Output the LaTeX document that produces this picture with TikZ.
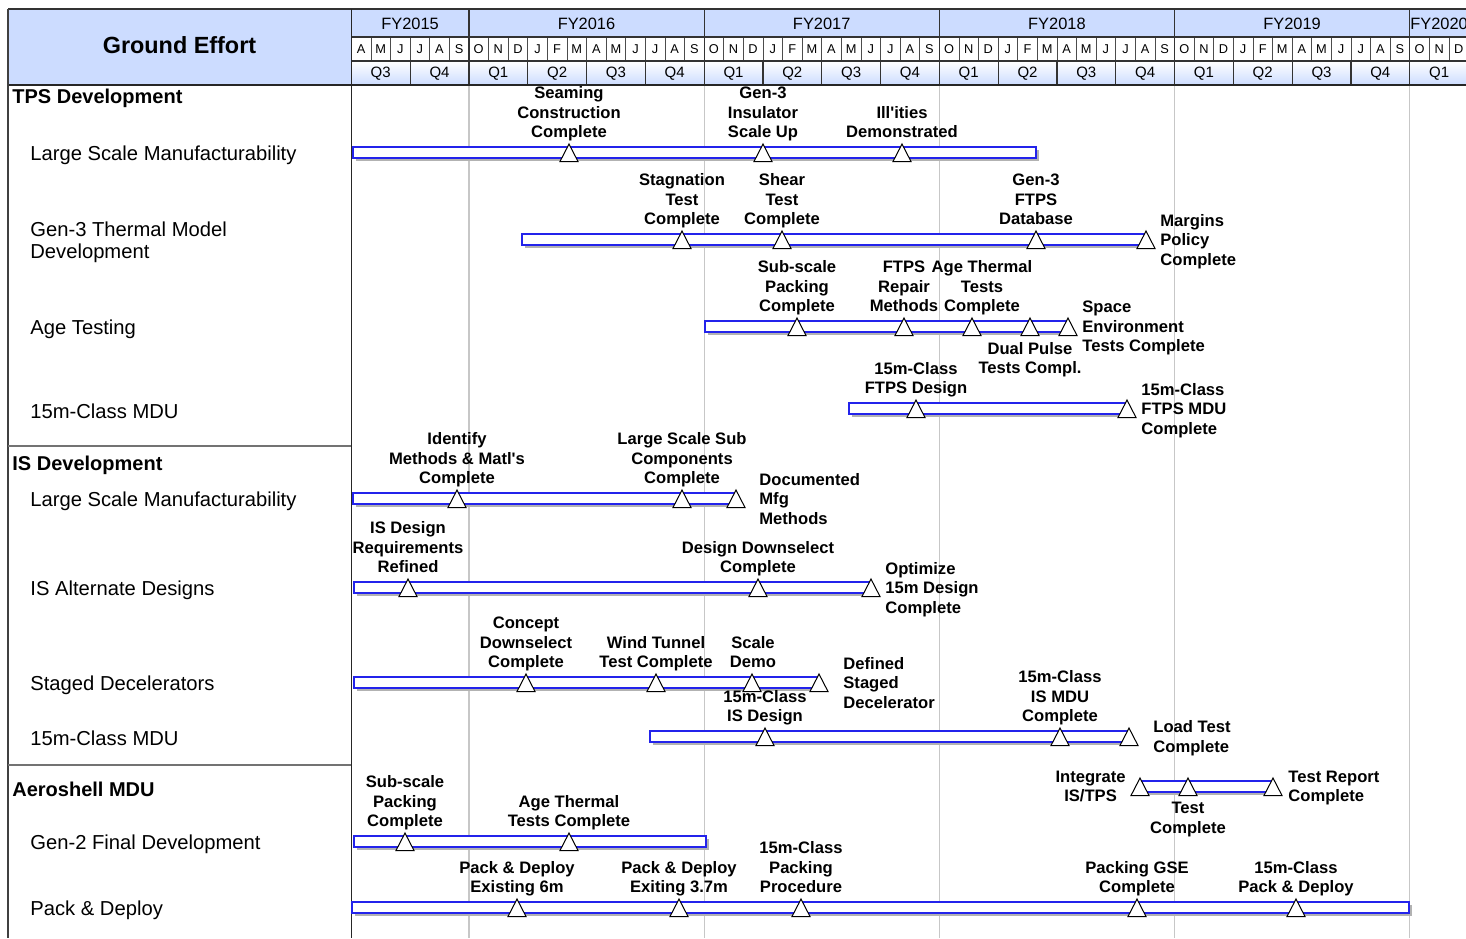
\documentclass[tikz,border=0pt]{standalone}
\usepackage{fontspec}
\setmainfont{Liberation Sans}
\definecolor{hdrblue}{RGB}{204,220,255}
\definecolor{barblue}{RGB}{35,35,235}
\tikzset{
  hdrline/.style={draw=black!80, line width=0.6pt},
  barbox/.style={draw=barblue, fill=white, line width=0.6pt},
  barshadow/.style={fill=black!30, draw=none},
  mstone/.style={draw=black, fill=white, line width=0.5pt, line join=miter},
  mlbl/.style={font=\fontsize{8.3}{9.75}\selectfont\bfseries, align=center, inner sep=0pt, text depth=0pt},
  rowlbl/.style={font=\fontsize{10.1}{11}\selectfont, anchor=west, align=left, inner sep=0pt},
  seclbl/.style={font=\fontsize{10}{12}\selectfont\bfseries, anchor=west, inner sep=0pt},
}
% bar from x1 to x2 at row centre y
\newcommand{\ganttbar}[3]{%
  \fill[barshadow] (#1+2.5,#3-3) rectangle (#2+2.5,#3+8);
  \draw[barbox] (#1,#3-5.5) rectangle (#2,#3+5.5);}
\begin{document}
\begin{tikzpicture}[x=0.5pt,y=-0.5pt]
\useasboundingbox (0,0) rectangle (1466,938);
\clip (0,0) rectangle (1466,938);

% header
\fill[hdrblue] (8,9) rectangle (351,85);
\fill[hdrblue] (351,9) rectangle (1470,37);
\shade[top color=white, bottom color=hdrblue] (351,61) rectangle (1470,85);
\node[font=\fontsize{11.7}{14}\selectfont\bfseries] (title) at (179.5,45) {Ground Effort};
\foreach \m [count=\i from 0] in {A,M,J,J,A,S,O,N,D,J,F,M,A,M,J,J,A,S,O,N,D,J,F,M,A,M,J,J,A,S,O,N,D,J,F,M,A,M,J,J,A,S,O,N,D,J,F,M,A,M,J,J,A,S,O,N,D}
  \node[font=\fontsize{6.4}{8}\selectfont, inner sep=0pt] (mon\i) at (351.3+19.6*\i+9.8,49.5) {\m};
\foreach \q [count=\i from 0] in {3,4,1,2,3,4,1,2,3,4,1,2,3,4,1,2,3,4,1}
  \node[font=\fontsize{7.5}{9}\selectfont, inner sep=0pt] (qtr\i) at (351.3+58.8*\i+29.4,73.5) {Q\q};
\node[font=\fontsize{8.2}{10}\selectfont, inner sep=0pt] (fy15) at (410.1,24) {FY2015};
\node[font=\fontsize{8.2}{10}\selectfont, inner sep=0pt] (fy16) at (586.5,24) {FY2016};
\node[font=\fontsize{8.2}{10}\selectfont, inner sep=0pt] (fy17) at (821.7,24) {FY2017};
\node[font=\fontsize{8.2}{10}\selectfont, inner sep=0pt] (fy18) at (1056.9,24) {FY2018};
\node[font=\fontsize{8.2}{10}\selectfont, inner sep=0pt] (fy19) at (1292.1,24) {FY2019};
\node[font=\fontsize{8.2}{10}\selectfont, inner sep=0pt] (fy20) at (1439.1,24) {FY2020};
\foreach \i in {1,...,56}
  \draw[black!70, line width=0.35pt] (351.3+19.6*\i,37) -- (351.3+19.6*\i,61);
\foreach \i in {1,...,18}
  \draw[hdrline] (351.3+58.8*\i,61) -- (351.3+58.8*\i,85);
\foreach \i in {6,18,30,42,54} {
  \draw[hdrline] (351.3+19.6*\i,9) -- (351.3+19.6*\i,85);
  \draw[black!22, line width=0.6pt] (351.3+19.6*\i,85) -- (351.3+19.6*\i,938);
}
\draw[hdrline] (8,9) -- (1470,9);
\draw[hdrline] (351,37) -- (1470,37);
\draw[hdrline] (351,61) -- (1470,61);
\draw[black!85, line width=1pt] (8,85) -- (1470,85);
\draw[black!75, line width=0.7pt] (8,9) -- (8,938);
\draw[black!85, line width=0.8pt] (351.3,9) -- (351.3,938);
\draw[black!55, line width=0.6pt] (8,446) -- (351.3,446);
\draw[black!55, line width=0.6pt] (8,765) -- (351.3,765);

% left column
\node[seclbl] (tps) at (12,98) {TPS Development};
\node[rowlbl] (tpslsm) at (30,155) {Large Scale Manufacturability};
\node[rowlbl] (gen3) at (30,242) {Gen-3 Thermal Model\\Development};
\node[rowlbl] (age) at (30,329) {Age Testing};
\node[rowlbl] (tpsmdu) at (30,411) {15m-Class MDU};
\node[seclbl] (isdev) at (12,465) {IS Development};
\node[rowlbl] (islsm) at (30,501) {Large Scale Manufacturability};
\node[rowlbl] (isalt) at (30,590) {IS Alternate Designs};
\node[rowlbl] (staged) at (30,685) {Staged Decelerators};
\node[rowlbl] (ismdu) at (30,738) {15m-Class MDU};
\node[seclbl] (aero) at (12,789) {Aeroshell MDU};
\node[rowlbl] (gen2) at (30,844) {Gen-2 Final Development};
\node[rowlbl] (pack) at (30,910) {Pack \& Deploy};

% TPS bars
\ganttbar{353}{1036}{152.5}
\foreach \x in {569,763,902}
  \draw[mstone] (\x-9,161.5) -- (\x+9,161.5) -- (\x,144) -- cycle;
\node[mlbl, anchor=south] (seam) at (569,138) {Seaming\\Construction\\Complete};
\node[mlbl, anchor=south] (insul) at (763,138) {Gen-3\\Insulator\\Scale Up};
\node[mlbl, anchor=south] (illit) at (902,138) {Ill\textquotesingle ities\\Demonstrated};

\ganttbar{522}{1146}{239.5}
\foreach \x in {682,782,1036,1146}
  \draw[mstone] (\x-9,248.5) -- (\x+9,248.5) -- (\x,231) -- cycle;
\node[mlbl, anchor=south] (stag) at (682,225) {Stagnation\\Test\\Complete};
\node[mlbl, anchor=south] (shear) at (782,225) {Shear\\Test\\Complete};
\node[mlbl, anchor=south] (ftpsdb) at (1036,225) {Gen-3\\FTPS\\Database};
\node[mlbl, anchor=west, align=left] (margin) at (1160,239.5) {Margins\\Policy\\Complete};

\ganttbar{705}{1068}{326.5}
\foreach \x in {797,904,972,1030,1068}
  \draw[mstone] (\x-9,335.5) -- (\x+9,335.5) -- (\x,318) -- cycle;
\node[mlbl, anchor=south] (subpack) at (797,312) {Sub-scale\\Packing\\Complete};
\node[mlbl, anchor=south] (repair) at (904,312) {FTPS\\Repair\\Methods};
\node[mlbl, anchor=south] (agetherm) at (982,312) {Age Thermal\\Tests\\Complete};
\node[mlbl, anchor=north] (dual) at (1030,342) {Dual Pulse\\Tests Compl.};
\node[mlbl, anchor=west, align=left] (space) at (1082,326.5) {Space\\Environment\\Tests Complete};

\ganttbar{849}{1127}{408.5}
\foreach \x in {916,1127}
  \draw[mstone] (\x-9,417.5) -- (\x+9,417.5) -- (\x,400) -- cycle;
\node[mlbl, anchor=south] (ftpsdes) at (916,394) {15m-Class\\FTPS Design};
\node[mlbl, anchor=west, align=left] (ftpsmdu) at (1141,408.5) {15m-Class\\FTPS MDU\\Complete};

% IS bars
\ganttbar{353}{736}{498.5}
\foreach \x in {457,682,736}
  \draw[mstone] (\x-9,507.5) -- (\x+9,507.5) -- (\x,490) -- cycle;
\node[mlbl, anchor=south] (ident) at (457,484) {Identify\\Methods \& Matl\textquotesingle s\\Complete};
\node[mlbl, anchor=south] (subcomp) at (682,484) {Large Scale Sub\\Components\\Complete};
\node[mlbl, anchor=west, align=left] (docmfg) at (759,498.5) {Documented\\Mfg\\Methods};

\ganttbar{354}{871}{587.5}
\foreach \x in {408,758,871}
  \draw[mstone] (\x-9,596.5) -- (\x+9,596.5) -- (\x,579) -- cycle;
\node[mlbl, anchor=south] (isreq) at (408,573) {IS Design\\Requirements\\Refined};
\node[mlbl, anchor=south] (desdown) at (758,573) {Design Downselect\\Complete};
\node[mlbl, anchor=west, align=left] (optim) at (885,587.5) {Optimize\\15m Design\\Complete};

\ganttbar{354}{819}{682.5}
\foreach \x in {526,656,752,819}
  \draw[mstone] (\x-9,691.5) -- (\x+9,691.5) -- (\x,674) -- cycle;
\node[mlbl, anchor=south] (concept) at (526,668) {Concept\\Downselect\\Complete};
\node[mlbl, anchor=south] (wind) at (656,668) {Wind Tunnel\\Test Complete};
\node[mlbl, anchor=south] (scale) at (753,668) {Scale\\Demo};
\node[mlbl, anchor=west, align=left] (defstaged) at (843,682.5) {Defined\\Staged\\Decelerator};

\ganttbar{650}{1129}{736.5}
\foreach \x in {765,1060,1129}
  \draw[mstone] (\x-9,745.5) -- (\x+9,745.5) -- (\x,728) -- cycle;
\node[mlbl, anchor=south] (isdes) at (765,722) {15m-Class\\IS Design};
\node[mlbl, anchor=south] (ismduc) at (1060,722) {15m-Class\\IS MDU\\Complete};
\node[mlbl, anchor=west, align=left] (load) at (1153,736.5) {Load Test\\Complete};

% Aeroshell bars
\ganttbar{1140}{1273}{786.5}
\foreach \x in {1140,1188,1273}
  \draw[mstone] (\x-9,795.5) -- (\x+9,795.5) -- (\x,778) -- cycle;
\node[mlbl, anchor=east] (integ) at (1126,786.5) {Integrate\\IS/TPS};
\node[mlbl, anchor=north] (testc) at (1188,802) {Test\\Complete};
\node[mlbl, anchor=west, align=left] (report) at (1288,786.5) {Test Report\\Complete};

\ganttbar{354}{706}{841.5}
\foreach \x in {405,569}
  \draw[mstone] (\x-9,850.5) -- (\x+9,850.5) -- (\x,833) -- cycle;
\node[mlbl, anchor=south] (subpack2) at (405,827) {Sub-scale\\Packing\\Complete};
\node[mlbl, anchor=south] (agetherm2) at (569,827) {Age Thermal\\Tests Complete};

\ganttbar{352}{1409}{907.5}
\foreach \x in {517,679,801,1137,1296}
  \draw[mstone] (\x-9,916.5) -- (\x+9,916.5) -- (\x,899) -- cycle;
\node[mlbl, anchor=south] (pd6) at (517,893) {Pack \& Deploy\\Existing 6m};
\node[mlbl, anchor=south] (pd37) at (679,893) {Pack \& Deploy\\Exiting 3.7m};
\node[mlbl, anchor=south] (packproc) at (801,893) {15m-Class\\Packing\\Procedure};
\node[mlbl, anchor=south] (gse) at (1137,893) {Packing GSE\\Complete};
\node[mlbl, anchor=south] (pd15) at (1296,893) {15m-Class\\Pack \& Deploy};
\end{tikzpicture}
\end{document}
